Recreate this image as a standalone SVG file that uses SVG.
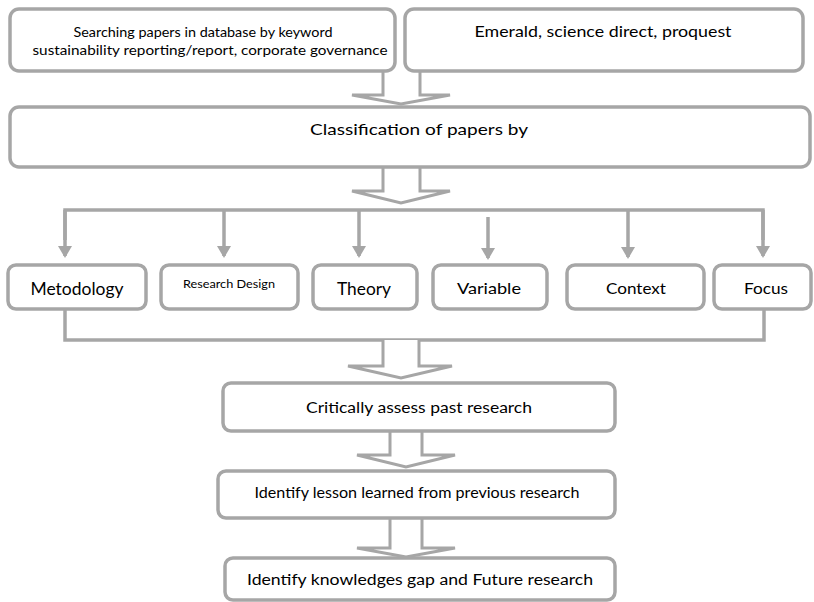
<svg xmlns="http://www.w3.org/2000/svg" width="814" height="602" viewBox="0 0 814 602">
<style>
.box{fill:#fff;stroke:#a6a6a6;stroke-width:3.5}
.blk{fill:#fff;stroke:#a6a6a6;stroke-width:3;stroke-linejoin:miter}
.ln{fill:none;stroke:#a6a6a6;stroke-width:3.5}
.t{font-family:Lato,"Open Sans","Liberation Sans",sans-serif;fill:#000;text-anchor:middle}
</style>
<defs>
<marker id="ah" markerUnits="userSpaceOnUse" markerWidth="12" markerHeight="14" refX="10" refY="7" orient="auto" viewBox="0 0 12 14">
<path d="M0,0 L12,7 L0,14 Z" fill="#a6a6a6"/>
</marker>
</defs>
<rect width="814" height="602" fill="#fff"/>
<g id="connectors">
<path class="blk" d="M383,71 V95 H352 L401,104 L450,95 H420 V71"/>
<path class="blk" d="M383,167 V191 H352 L401,203 L450,191 H420 V167"/>
<path class="ln" d="M65,240 V210 H763 V240"/>
<path class="ln" d="M65,210 V256" marker-end="url(#ah)"/>
<path class="ln" d="M224,210 V256" marker-end="url(#ah)"/>
<path class="ln" d="M359,210 V256" marker-end="url(#ah)"/>
<path class="ln" d="M488,217 V258" marker-end="url(#ah)"/>
<path class="ln" d="M628,210 V257" marker-end="url(#ah)"/>
<path class="ln" d="M763,210 V256" marker-end="url(#ah)"/>
<path class="ln" d="M65,309 V340 H764 V309"/>
<path class="blk" d="M383,340 V366 H348 L401,378 L452,366 H419 V340"/>
<path class="blk" d="M390,431 V455 H357 L406,467 L455,455 H422 V431"/>
<path class="blk" d="M390,518 V548 H357 L406,557 L455,548 H422 V518"/>
</g>
<g id="n_search">
<rect class="box" x="10" y="9" width="385" height="62" rx="9"/>
<text class="t" x="203" y="37" font-size="13.5" textLength="259" lengthAdjust="spacingAndGlyphs">Searching papers in database by keyword</text>
<text class="t" x="210" y="55" font-size="13.5" textLength="355" lengthAdjust="spacingAndGlyphs">sustainability reporting/report, corporate governance</text>
</g>
<g id="n_db">
<rect class="box" x="405" y="9" width="398" height="62" rx="9"/>
<text class="t" x="603" y="37" font-size="15" textLength="257" lengthAdjust="spacingAndGlyphs">Emerald, science direct, proquest</text>
</g>
<g id="n_class">
<rect class="box" x="10" y="107" width="800" height="60" rx="9"/>
<text class="t" x="419" y="135" font-size="15" textLength="218" lengthAdjust="spacingAndGlyphs">Classification of papers by</text>
</g>
<g id="n_met">
<rect class="box" x="8" y="265" width="138" height="44" rx="8"/>
<text class="t" x="77" y="295" font-size="17" textLength="93" lengthAdjust="spacingAndGlyphs">Metodology</text>
</g>
<g id="n_rd">
<rect class="box" x="161" y="265" width="137" height="44" rx="8"/>
<text class="t" x="229" y="288" font-size="11.5" textLength="92" lengthAdjust="spacingAndGlyphs">Research Design</text>
</g>
<g id="n_theory">
<rect class="box" x="313" y="265" width="104" height="44" rx="8"/>
<text class="t" x="364" y="295" font-size="17" textLength="54" lengthAdjust="spacingAndGlyphs">Theory</text>
</g>
<g id="n_var">
<rect class="box" x="433" y="265" width="114" height="44" rx="8"/>
<text class="t" x="489" y="294" font-size="16" textLength="64" lengthAdjust="spacingAndGlyphs">Variable</text>
</g>
<g id="n_ctx">
<rect class="box" x="567" y="265" width="137" height="44" rx="8"/>
<text class="t" x="636" y="294" font-size="16" textLength="60" lengthAdjust="spacingAndGlyphs">Context</text>
</g>
<g id="n_focus">
<rect class="box" x="714" y="265" width="97" height="44" rx="8"/>
<text class="t" x="766" y="294" font-size="16" textLength="44" lengthAdjust="spacingAndGlyphs">Focus</text>
</g>
<g id="n_crit">
<rect class="box" x="223" y="383" width="392" height="48" rx="8"/>
<text class="t" x="419" y="413" font-size="15.5" textLength="226" lengthAdjust="spacingAndGlyphs">Critically assess past research</text>
</g>
<g id="n_lesson">
<rect class="box" x="218" y="471" width="397" height="47" rx="8"/>
<text class="t" x="417" y="498" font-size="14.5" textLength="325" lengthAdjust="spacingAndGlyphs">Identify lesson learned from previous research</text>
</g>
<g id="n_gap">
<rect class="box" x="225" y="558" width="390" height="42" rx="8"/>
<text class="t" x="420" y="585" font-size="15.5" textLength="346" lengthAdjust="spacingAndGlyphs">Identify knowledges gap and Future research</text>
</g>
</svg>
